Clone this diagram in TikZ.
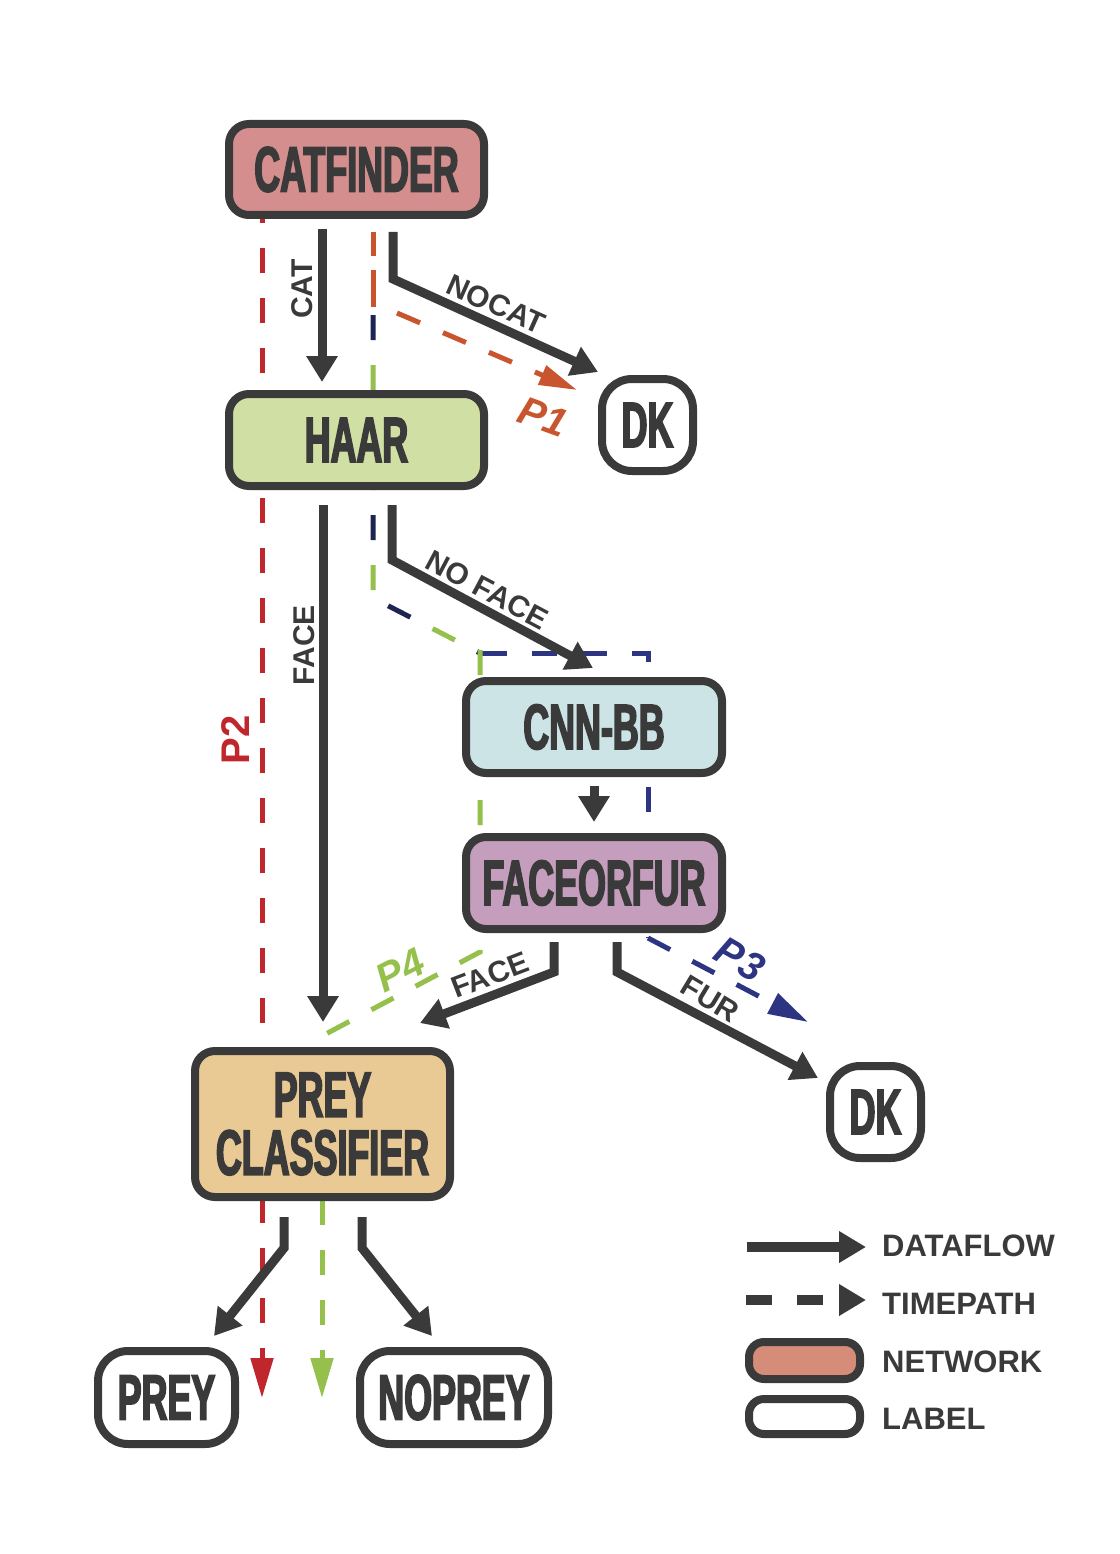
\documentclass[tikz,border=0pt]{standalone}
\usepackage{fontspec}
\usetikzlibrary{arrows.meta,calc}
\newfontfamily\boxfont[FakeStretch=0.56,FakeBold=2.5]{Liberation Sans Bold}
\newfontfamily\lblfont{Liberation Sans Bold}
\newfontfamily\pitfont{Liberation Sans Bold Italic}
\newfontfamily\legfont{Liberation Sans Bold}
\definecolor{dk}{HTML}{3A3A3A}
\definecolor{fcat}{HTML}{D58E8E}
\definecolor{fhaar}{HTML}{D0E0A5}
\definecolor{fcnn}{HTML}{CDE4E6}
\definecolor{fface}{HTML}{C59EBD}
\definecolor{fprey}{HTML}{EACA94}
\definecolor{fnet}{HTML}{D58D7A}
\definecolor{cred}{HTML}{C0272D}
\definecolor{corange}{HTML}{C9552E}
\definecolor{cnavyd}{HTML}{1E2552}
\definecolor{cnavy}{HTML}{2D3582}
\definecolor{cgreen}{HTML}{95C04B}
\begin{document}
\begin{tikzpicture}[x=1pt,y=-1pt,
  netbox/.style={draw=dk,line width=8pt,rounded corners=20pt,inner sep=0pt,text=dk,font=\boxfont\fontsize{64}{58}\selectfont,align=center},
  lblbox/.style={netbox,fill=white,rounded corners=30pt},
  flow/.style={draw=dk,line width=9pt,miter limit=10,-{Triangle[length=26pt,width=30pt]}},
  tpath/.style={line width=5pt,dash pattern=on 25pt off 25pt},
  ttip/.style={-{Triangle[length=40pt,width=22pt]}},
  elbl/.style={text=dk,font=\lblfont\fontsize{30}{30}\selectfont,inner sep=0pt},
  plbl/.style={font=\pitfont\fontsize{40}{40}\selectfont,inner sep=0pt},
  leg/.style={text=dk,font=\legfont\fontsize{31}{31}\selectfont,anchor=west,inner sep=0pt}]
\fill[white] (0,0) rectangle (1119,1554);
\useasboundingbox (0,0) rectangle (1119,1554);

% ---------- time paths (below boxes) ----------
% P2 red
\coordinate (r0) at (262,198);
\coordinate (r1) at (262,1398);
\draw[tpath,cred,ttip] (r0) -- (r1);
% P1 orange
\coordinate (o0) at (373,232);
\coordinate (o1) at (373,307);
\coordinate (o2) at (397,313);
\coordinate (o3) at (577,390);
\draw[line width=5pt,corange,dash pattern=on 24pt off 14pt on 37pt off 10pt] (o0) -- (o1);
\draw[tpath,corange,-{Triangle[length=38pt,width=20pt]}] (o2) -- (o3);
% P3 navy
\coordinate (n0) at (373,315);
\coordinate (n1) at (373,598);
\coordinate (n2) at (480,653);
\coordinate (n3) at (648,653);
\coordinate (n4) at (648,938);
\coordinate (n5) at (808,1022);
\draw[line width=5pt,cnavyd,dash pattern=on 25pt off 75pt] (n0) -- (n1) -- (n2);
\draw[tpath,cnavy,dash phase=48pt,miter limit=10] (n2) -- (n3) -- (n4);
\draw[tpath,cnavy,ttip] (n4) -- (n5);
% P4 green
\coordinate (g0) at (373,365);
\coordinate (g1) at (480,650);
\coordinate (g2) at (480,952);
\coordinate (g3) at (322,1036);
\coordinate (g4) at (322,1398);
\draw[line width=5pt,cgreen,dash pattern=on 25pt off 75pt] (g0) -- (n1) -- (n2);
\draw[tpath,cgreen] (g1) -- (g2) -- (g3);
\draw[tpath,cgreen,dash phase=36pt,ttip] (g3) -- (g4);

% ---------- boxes ----------
\node[netbox,fill=fcat,minimum width=255pt,minimum height=91pt] (catfinder) at (356.5,169.5) {CATFINDER};
\node[netbox,fill=fhaar,minimum width=255pt,minimum height=92pt] (haar) at (356.5,440) {HAAR};
\node[lblbox,minimum width=91pt,minimum height=92pt] (dk1) at (647.5,425) {DK};
\node[netbox,fill=fcnn,minimum width=256pt,minimum height=92pt] (cnn) at (594,727) {CNN-BB};
\node[netbox,fill=fface,minimum width=256pt,minimum height=92pt] (faceorfur) at (594,883) {FACEORFUR};
\node[netbox,fill=fprey,minimum width=255pt,minimum height=146pt] (preycls) at (322.5,1124) {PREY\\CLASSIFIER};
\node[lblbox,minimum width=91pt,minimum height=92pt] (dk2) at (875.5,1112) {DK};
\node[lblbox,minimum width=137pt,minimum height=93pt] (prey) at (166.5,1397.5) {PREY};
\node[lblbox,minimum width=188pt,minimum height=93pt] (noprey) at (454,1397.5) {NOPREY};

% ---------- data flow ----------
\draw[flow] ([xshift=-34.5pt,yshift=-10pt]catfinder.south) -- ([xshift=-34.5pt,yshift=8pt]haar.north);
\draw[flow] ([xshift=36.5pt,yshift=-13pt]catfinder.south) -- ++(0,47) -- ([yshift=3pt]dk1.north west);
\coordinate (hf0) at ([xshift=-33.5pt,yshift=-15pt]haar.south);
\coordinate (hf1) at ([yshift=25pt]preycls.north);
\draw[flow] (hf0) -- (hf0 |- hf1);
\draw[flow] ([xshift=35.5pt,yshift=-15pt]haar.south) -- ++(0,55) -- ([xshift=-1pt,yshift=9pt]cnn.north);
\draw[flow] ([yshift=-9pt]cnn.south) -- ([yshift=11pt]faceorfur.north);
\draw[flow] ([xshift=-40pt,yshift=-9pt]faceorfur.south) -- ++(0,30) -- ([xshift=-34pt,yshift=24pt]preycls.north east);
\draw[flow] ([xshift=23pt,yshift=-9pt]faceorfur.south) -- ++(0,30) -- ([xshift=-8pt,yshift=-16pt]dk2.north west);
\draw[flow] ([xshift=-38.5pt,yshift=-16pt]preycls.south) -- ++(0,31) -- ([xshift=-25pt,yshift=11pt]prey.north east);
\draw[flow] ([xshift=39.5pt,yshift=-16pt]preycls.south) -- ++(0,31) -- ([xshift=-22pt,yshift=11pt]noprey.north);

% ---------- edge labels ----------
\node[elbl,rotate=90] (lcat) at (302,289) {CAT};
\node[elbl,rotate=-24] (lnocat) at (496,304) {NOCAT};
\node[elbl,rotate=90] (lface1) at (304,645) {FACE};
\node[elbl,rotate=-28] (lnoface) at (487,590) {NO FACE};
\node[elbl,rotate=21] (lface2) at (490,975) {FACE};
\node[elbl,rotate=-31] (lfur) at (710,999) {FUR};
\node[plbl,corange,rotate=-20] (p1) at (543,417) {P1};
\node[font=\lblfont\fontsize{40}{40}\selectfont,inner sep=0pt,cred,rotate=90] (p2) at (236,740) {P2};
\node[plbl,cnavy,rotate=-30] (p3) at (740,959) {P3};
\node[plbl,cgreen,rotate=27] (p4) at (400,970) {P4};

% ---------- legend ----------
\coordinate (ld0) at (746.5,1247);
\coordinate (ld1) at (866,1247);
\draw[dk,line width=10pt,-{Triangle[length=27pt,width=30pt]}] (ld0) -- (ld1);
\coordinate (lt0) at (746,1300);
\coordinate (lt1) at (866,1300);
\draw[dk,line width=10pt,dash pattern=on 26pt off 25pt,-{Triangle[length=27pt,width=30pt]}] (lt0) -- (lt1);
\node[draw=dk,line width=8pt,rounded corners=15pt,fill=fnet,minimum width=111pt,minimum height=37pt,inner sep=0pt] (legnet) at (804.5,1360.5) {};
\node[draw=dk,line width=8pt,rounded corners=15pt,fill=white,minimum width=111pt,minimum height=35pt,inner sep=0pt] (leglab) at (804.5,1416.5) {};
\node[leg] (tdf) at (882,1246) {DATAFLOW};
\node[leg] (ttp) at (882,1303.5) {TIMEPATH};
\node[leg] (tnw) at (882,1361.5) {NETWORK};
\node[leg] (tlb) at (882,1418.5) {LABEL};
\end{tikzpicture}
\end{document}
